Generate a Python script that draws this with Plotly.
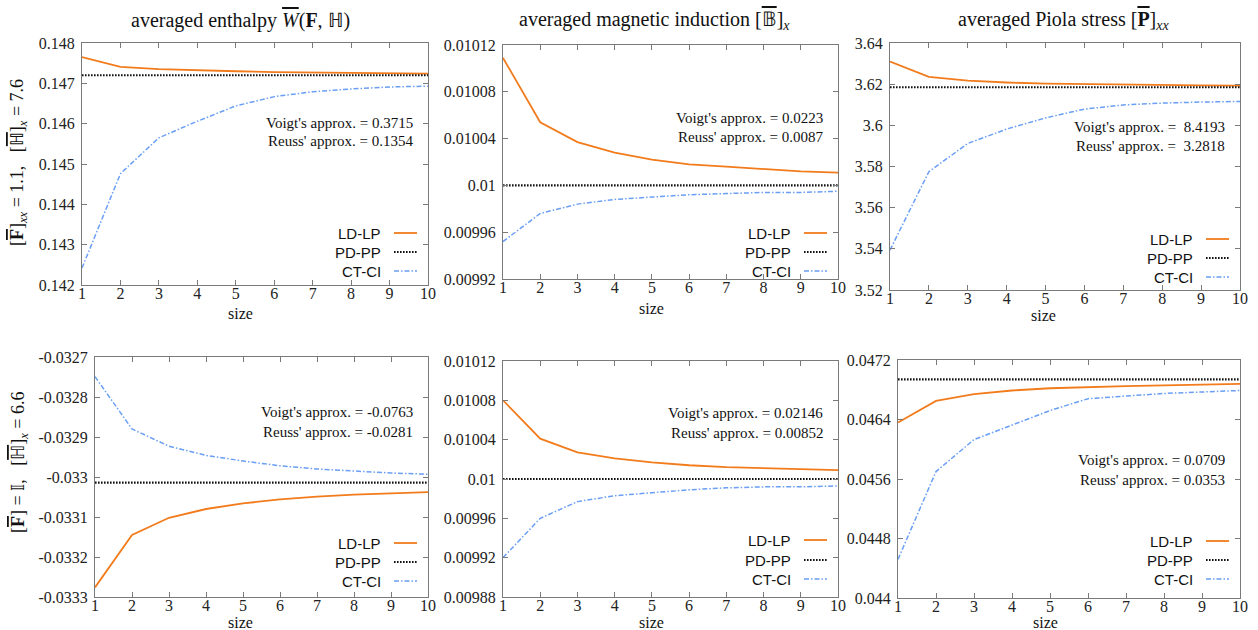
import plotly.graph_objects as go

FIG_W, FIG_H = 1258, 630

# ---------------- data ----------------
sizes = [1, 2, 3, 4, 5, 6, 7, 8, 9, 10]
x_tick_labels = ["1", "2", "3", "4", "5", "6", "7", "8", "9", "10"]
series_names = ["LD-LP", "PD-PP", "CT-CI"]

# row 1: [F]xx = 1.1, [H]x = 7.6
enthalpy_A_LDLP = [0.14765, 0.14741, 0.14735, 0.14732, 0.14730, 0.14728, 0.14727, 0.14726, 0.14725, 0.14724]
enthalpy_A_PDPP = [0.14720, 0.14720, 0.14720, 0.14720, 0.14720, 0.14720, 0.14720, 0.14720, 0.14720, 0.14720]
enthalpy_A_CTCI = [0.14242, 0.14476, 0.14565, 0.14606, 0.14644, 0.14667, 0.14679, 0.14686, 0.14691, 0.14693]

induction_A_LDLP = [0.010109, 0.010054, 0.010037, 0.010028, 0.010022, 0.010018, 0.010016, 0.010014, 0.010012, 0.010011]
induction_A_PDPP = [0.01, 0.01, 0.01, 0.01, 0.01, 0.01, 0.01, 0.01, 0.01, 0.01]
induction_A_CTCI = [0.009952, 0.009976, 0.009984, 0.009988, 0.009990, 0.009992, 0.009993, 0.009994, 0.009994, 0.009995]

stress_A_LDLP = [3.6310, 3.6235, 3.6217, 3.6208, 3.6203, 3.6200, 3.6198, 3.6196, 3.6194, 3.6193]
stress_A_PDPP = [3.6185, 3.6185, 3.6185, 3.6185, 3.6185, 3.6185, 3.6185, 3.6185, 3.6185, 3.6185]
stress_A_CTCI = [3.5394, 3.5775, 3.5912, 3.5982, 3.6036, 3.6079, 3.6099, 3.6108, 3.6113, 3.6116]

# row 2: [F] = I, [H]x = 6.6
enthalpy_B_LDLP = [-0.033276, -0.033145, -0.033102, -0.033080, -0.033066, -0.033056, -0.033049, -0.033044, -0.033041, -0.033038]
enthalpy_B_PDPP = [-0.033014, -0.033014, -0.033014, -0.033014, -0.033014, -0.033014, -0.033014, -0.033014, -0.033014, -0.033014]
enthalpy_B_CTCI = [-0.032749, -0.032880, -0.032923, -0.032946, -0.032960, -0.032972, -0.032980, -0.032985, -0.032990, -0.032993]

induction_B_LDLP = [0.010080, 0.010041, 0.010027, 0.010021, 0.010017, 0.010014, 0.010012, 0.010011, 0.010010, 0.010009]
induction_B_PDPP = [0.01, 0.01, 0.01, 0.01, 0.01, 0.01, 0.01, 0.01, 0.01, 0.01]
induction_B_CTCI = [0.009920, 0.009960, 0.009977, 0.009983, 0.009986, 0.009989, 0.009991, 0.009992, 0.009992, 0.009993]

stress_B_LDLP = [0.04636, 0.04665, 0.04674, 0.04679, 0.04682, 0.04684, 0.04685, 0.04686, 0.04687, 0.04688]
stress_B_PDPP = [0.04694, 0.04694, 0.04694, 0.04694, 0.04694, 0.04694, 0.04694, 0.04694, 0.04694, 0.04694]
stress_B_CTCI = [0.04452, 0.04570, 0.04613, 0.04633, 0.04652, 0.04668, 0.04672, 0.04675, 0.04677, 0.04679]

yticks_enthalpy_A = ["0.142", "0.143", "0.144", "0.145", "0.146", "0.147", "0.148"]
yticks_induction_A = ["0.00992", "0.00996", "0.01", "0.01004", "0.01008", "0.01012"]
yticks_stress_A = ["3.52", "3.54", "3.56", "3.58", "3.6", "3.62", "3.64"]
yticks_enthalpy_B = ["-0.0333", "-0.0332", "-0.0331", "-0.033", "-0.0329", "-0.0328", "-0.0327"]
yticks_induction_B = ["0.00988", "0.00992", "0.00996", "0.01", "0.01004", "0.01008", "0.01012"]
yticks_stress_B = ["0.044", "0.0448", "0.0456", "0.0464", "0.0472"]

voigt_values = ["0.3715", "0.0223", "\u00a08.4193", "-0.0763", "0.02146", "0.0709"]
reuss_values = ["0.1354", "0.0087", "\u00a03.2818", "-0.0281", "0.00852", "0.0353"]

# ---------------- styling ----------------
SERIF = "Liberation Serif, Times New Roman, serif"
SANS = "Liberation Sans, Arial, sans-serif"
ORANGE = "#f27b1c"
BLUE = "#6a9ff5"
BLACK = "#111111"
FRAME = "#7a7a7a"
styles = [
    dict(color=ORANGE, width=1.8, dash="solid"),
    dict(color=BLACK, width=2.2, dash="1.6px,1.4px"),
    dict(color=BLUE, width=1.5, dash="5px,2px,1.5px,2px"),
]

OV = "<span style='text-decoration:overline'>{}</span>"

panels = [
    dict(series=[enthalpy_A_LDLP, enthalpy_A_PDPP, enthalpy_A_CTCI], yticks=yticks_enthalpy_A,
         box=(82, 428, 43, 285), legend_rows=(233, 252, 271), approx_y=(123, 141), size_pos=(240, 313)),
    dict(series=[induction_A_LDLP, induction_A_PDPP, induction_A_CTCI], yticks=yticks_induction_A,
         box=(503, 838, 45, 279), legend_rows=(233, 252, 271), approx_y=(118, 137), size_pos=(651, 308)),
    dict(series=[stress_A_LDLP, stress_A_PDPP, stress_A_CTCI], yticks=yticks_stress_A,
         box=(890, 1240, 43, 290), legend_rows=(239, 258, 277), approx_y=(127, 146), size_pos=(1043, 315)),
    dict(series=[enthalpy_B_LDLP, enthalpy_B_PDPP, enthalpy_B_CTCI], yticks=yticks_enthalpy_B,
         box=(95, 428, 357, 597), legend_rows=(543, 562, 581), approx_y=(412, 432), size_pos=(241, 622)),
    dict(series=[induction_B_LDLP, induction_B_PDPP, induction_B_CTCI], yticks=yticks_induction_B,
         box=(503, 838, 361, 597), legend_rows=(540, 560, 579), approx_y=(413, 433), size_pos=(651, 622)),
    dict(series=[stress_B_LDLP, stress_B_PDPP, stress_B_CTCI], yticks=yticks_stress_B,
         box=(898, 1240, 360, 598), legend_rows=(541, 560, 579), approx_y=(460, 480), size_pos=(1045, 622)),
]


def px(x):
    return x / FIG_W


def py(y):
    return 1 - y / FIG_H


fig = go.Figure()
layout = dict(
    width=FIG_W, height=FIG_H,
    margin=dict(l=0, r=0, t=0, b=0),
    paper_bgcolor="white", plot_bgcolor="white",
    showlegend=False,
    font=dict(family=SERIF, size=16, color="#222"),
)
annotations = []
shapes = []

for i, p in enumerate(panels):
    n = i + 1
    xa = "x" if n == 1 else f"x{n}"
    ya = "y" if n == 1 else f"y{n}"
    for name, vals, st in zip(series_names, p["series"], styles):
        fig.add_trace(go.Scatter(x=sizes, y=vals, mode="lines", name=name,
                                 line=st, xaxis=xa, yaxis=ya, showlegend=False))
    x0, x1, y0, y1 = p["box"]
    tv = [float(t) for t in p["yticks"]]
    common = dict(showline=True, linecolor=FRAME, linewidth=1, mirror="ticks",
                  ticks="inside", ticklen=5, tickcolor=FRAME, showgrid=False,
                  zeroline=False, automargin=False,
                  tickfont=dict(family=SERIF, size=16, color="#222"))
    layout["xaxis" if n == 1 else f"xaxis{n}"] = dict(
        domain=[px(x0), px(x1)], anchor=ya, range=[sizes[0], sizes[-1]],
        tickvals=sizes, ticktext=x_tick_labels, ticklabelstandoff=-6, **common)
    layout["yaxis" if n == 1 else f"yaxis{n}"] = dict(
        domain=[py(y1), py(y0)], anchor=xa, range=[tv[0], tv[-1]],
        tickvals=tv, ticktext=p["yticks"], ticklabelstandoff=3, **common)

    # x-axis title
    sx, sy = p["size_pos"]
    annotations.append(dict(text="size", x=px(sx), y=py(sy), xref="paper", yref="paper",
                            xanchor="center", yanchor="middle", showarrow=False,
                            font=dict(family=SERIF, size=16, color="#111")))

    # approximations text
    ax_r = x1 - 13
    annotations.append(dict(text=f"Voigt's approx. = {voigt_values[i]}", x=px(ax_r), y=py(p["approx_y"][0]),
                            xref="paper", yref="paper", xanchor="right", yanchor="middle",
                            showarrow=False, font=dict(family=SERIF, size=15, color="#111")))
    annotations.append(dict(text=f"Reuss' approx. = {reuss_values[i]}", x=px(ax_r), y=py(p["approx_y"][1]),
                            xref="paper", yref="paper", xanchor="right", yanchor="middle",
                            showarrow=False, font=dict(family=SERIF, size=15, color="#111")))
    # custom legend: text left, sample line right
    for name, st, ry in zip(series_names, styles, p["legend_rows"]):
        annotations.append(dict(text=name, x=px(x1 - 45), y=py(ry), xref="paper", yref="paper",
                                xanchor="right", yanchor="middle", showarrow=False,
                                font=dict(family=SANS, size=15, color="#111")))
        shapes.append(dict(type="line", xref="paper", yref="paper",
                           x0=px(x1 - 34), x1=px(x1 - 11), y0=py(ry), y1=py(ry),
                           line=dict(color=st["color"], width=st["width"], dash=st["dash"])))

# column titles
titles = [
    "averaged enthalpy " + OV.format("<i>W</i>") + "(<b>F</b>, ℍ)",
    "averaged magnetic induction [" + OV.format("𝔹") + "]<sub><i>x</i></sub>",
    "averaged Piola stress [" + OV.format("<b>P</b>") + "]<sub><i>xx</i></sub>",
]
title_cx = [241, 654, 1063]
for t, cx in zip(titles, title_cx):
    annotations.append(dict(text=t, x=px(cx), y=py(20), xref="paper", yref="paper",
                            xanchor="center", yanchor="middle", showarrow=False,
                            font=dict(family=SERIF, size=20, color="#111")))

# row labels
row_labels = [
    "[" + OV.format("<b>F</b>") + "]<sub><i>xx</i></sub> = 1.1,\u00a0\u00a0\u00a0[" + OV.format("ℍ") + "]<sub><i>x</i></sub> = 7.6",
    "[" + OV.format("<b>F</b>") + "] = 𝕀,\u00a0\u00a0\u00a0[" + OV.format("ℍ") + "]<sub><i>x</i></sub> = 6.6",
]
row_cy = [163, 463]
for t, cy in zip(row_labels, row_cy):
    annotations.append(dict(text=t, x=px(19), y=py(cy), xref="paper", yref="paper",
                            xanchor="center", yanchor="middle", showarrow=False, textangle=-90,
                            font=dict(family=SERIF, size=18, color="#111")))

layout["annotations"] = annotations
layout["shapes"] = shapes
fig.update_layout(**layout)
fig.write_html("out.html")
